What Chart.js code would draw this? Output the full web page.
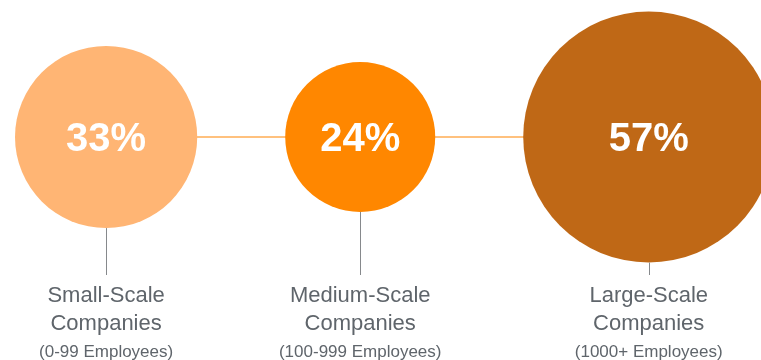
<!DOCTYPE html>
<html>
<head>
<meta charset="utf-8">
<script src="https://cdn.jsdelivr.net/npm/chart.js@4/dist/chart.umd.min.js"></script>
<style>
  html, body { margin: 0; padding: 0; background: #ffffff; }
  #wrap { width: 761px; height: 360px; position: relative; }
</style>
</head>
<body>
<div id="wrap"><canvas id="chart"></canvas></div>
<script>
// Share of companies by size
const categories = ['Small-Scale', 'Medium-Scale', 'Large-Scale'];
const categoryNoun = ['Companies', 'Companies', 'Companies'];
const employeeRanges = ['(0-99 Employees)', '(100-999 Employees)', '(1000+ Employees)'];
const shares = [33, 24, 57];

const bubbleColors = ['#FFB574', '#FF8700', '#BF6816'];
const connectorColor = '#FFC17E';
const stemColor = '#86898c';
const textColor = '#5f656b';
const FONT = '"Liberation Sans", Arial, Helvetica, sans-serif';

// Bubble radius: linear on the square root of the share
const R_AT_MIN = 75, R_AT_MAX = 125.5;
const sMin = Math.sqrt(Math.min(...shares)), sMax = Math.sqrt(Math.max(...shares));
const radiusOf = v => R_AT_MIN + (R_AT_MAX - R_AT_MIN) * (Math.sqrt(v) - sMin) / (sMax - sMin);

// Horizontal layout: bubbles placed side by side with an equal gap between edges
const LEFT_PAD = 15, GAP = 88;
const radii = shares.map(radiusOf);
const centers = [];
radii.forEach((r, i) => {
  centers.push(i === 0 ? LEFT_PAD + r : centers[i - 1] + radii[i - 1] + GAP + r);
});

const points = shares.map((v, i) => ({ x: centers[i], y: 0, r: radii[i], v }));

const STEM_END = 275;     // where the stems under the bubbles stop
const labelsPlugin = {
  id: 'bubbleLabels',
  afterDatasetsDraw(chart) {
    const ctx = chart.ctx;
    const meta = chart.getDatasetMeta(0);
    ctx.save();
    meta.data.forEach((el, i) => {
      const r = el.options.radius;
      // stem
      ctx.strokeStyle = stemColor;
      ctx.lineWidth = 1;
      ctx.beginPath();
      ctx.moveTo(Math.round(el.x) + 0.5, el.y + r);
      ctx.lineTo(Math.round(el.x) + 0.5, STEM_END);
      ctx.stroke();
      // share inside the bubble
      ctx.fillStyle = '#ffffff';
      ctx.font = 'bold 40px ' + FONT;
      ctx.textAlign = 'center';
      ctx.textBaseline = 'alphabetic';
      ctx.fillText(shares[i] + '%', el.x, el.y + 14);
      // category captions
      ctx.fillStyle = textColor;
      ctx.font = '22px ' + FONT;
      ctx.fillText(categories[i], el.x, 302);
      ctx.fillText(categoryNoun[i], el.x, 330);
      ctx.font = '17px ' + FONT;
      ctx.fillText(employeeRanges[i], el.x, 357);
    });
    ctx.restore();
  }
};

new Chart(document.getElementById('chart'), {
  type: 'bubble',
  data: {
    datasets: [
      {
        type: 'bubble',
        data: points,
        backgroundColor: bubbleColors,
        borderWidth: 0,
        hoverBorderWidth: 0,
        clip: false,
        order: 0
      },
      {
        type: 'line',
        data: points.map(p => ({ x: p.x, y: p.y })),
        borderColor: connectorColor,
        borderWidth: 2,
        pointRadius: 0,
        fill: false,
        clip: false,
        order: 1
      }
    ]
  },
  options: {
    responsive: true,
    maintainAspectRatio: false,
    animation: false,
    layout: { autoPadding: false, padding: { top: 0, left: 0, right: 0, bottom: 86 } },
    plugins: { legend: { display: false }, tooltip: { enabled: false } },
    scales: {
      x: { type: 'linear', min: 0, max: 761, display: false },
      y: { type: 'linear', min: -1, max: 1, display: false }
    }
  },
  plugins: [labelsPlugin]
});
</script>
</body>
</html>
